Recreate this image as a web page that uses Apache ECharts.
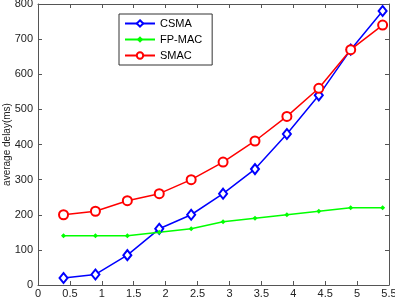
<!DOCTYPE html>
<html><head><meta charset="utf-8">
<script src="https://cdn.jsdelivr.net/npm/echarts@6/dist/echarts.min.js"></script>
<style>html,body{margin:0;padding:0;background:#fff}#c{width:395px;height:298px}</style>
</head><body><div id="c"></div>
<script>
const xValues = [0.4, 0.9, 1.4, 1.9, 2.4, 2.9, 3.4, 3.9, 4.4, 4.9, 5.4];
const csma = [20, 30, 85, 160, 200, 260, 330, 430, 540, 670, 780];
const fpmac = [140, 140, 140, 150, 160, 180, 190, 200, 210, 220, 220];
const smac = [200, 210, 240, 260, 300, 350, 410, 480, 560, 670, 740];
const seriesNames = ['CSMA', 'FP-MAC', 'SMAC'];
const yLabel = 'average delay(ms)';

const pair = (arr) => xValues.map((x, i) => [x, arr[i]]);
const font = 'Liberation Sans, Arial, sans-serif';
const axisCommon = {
  axisLine: {show: true, onZero: false, lineStyle: {color: '#555', width: 1}},
  axisTick: {show: true, inside: true, length: 4, lineStyle: {color: '#555'}},
  splitLine: {show: false}
};
const chart = echarts.init(document.getElementById('c'));
chart.setOption({
  animation: false,
  backgroundColor: '#fff',
  grid: {left: 38, right: 6, top: 4, bottom: 13, containLabel: false, outerBoundsMode: 'none'},
  legend: {
    orient: 'vertical', left: 119, top: 14, width: 90,
    itemWidth: 30, itemHeight: 8, itemGap: 5,
    padding: [4, 10, 4, 5],
    borderColor: '#333', borderWidth: 1, backgroundColor: '#fff',
    textStyle: {fontFamily: font, fontSize: 11, color: '#000'},
    data: seriesNames
  },
  xAxis: [
    Object.assign({type: 'value', min: 0, max: 5.5, interval: 0.5, position: 'bottom',
      axisLabel: {fontFamily: font, fontSize: 11, color: '#222', margin: 3}}, axisCommon),
    Object.assign({type: 'value', min: 0, max: 5.5, interval: 0.5, position: 'top',
      axisLabel: {show: false}}, axisCommon)
  ],
  yAxis: [
    Object.assign({type: 'value', min: 0, max: 800, interval: 100, position: 'left',
      name: yLabel, nameLocation: 'middle', nameGap: 26, nameMoveOverlap: false,
      nameTextStyle: {fontFamily: font, fontSize: 10, color: '#222'},
      axisLabel: {fontFamily: font, fontSize: 11, color: '#222', margin: 5}}, axisCommon),
    Object.assign({type: 'value', min: 0, max: 800, interval: 100, position: 'right',
      axisLabel: {show: false}}, axisCommon)
  ],
  series: [
    {name: seriesNames[0], type: 'line', data: pair(csma), symbol: 'emptyDiamond', symbolSize: [8, 10],
      itemStyle: {color: '#0000ff', borderWidth: 1.2}, lineStyle: {color: '#0000ff', width: 1.5}},
    {name: seriesNames[1], type: 'line', data: pair(fpmac), symbol: 'diamond', symbolSize: 5,
      itemStyle: {color: '#00ff00'}, lineStyle: {color: '#00ff00', width: 1.5}},
    {name: seriesNames[2], type: 'line', data: pair(smac), symbol: 'emptyCircle', symbolSize: 9,
      itemStyle: {color: '#ff0000', borderWidth: 1.2}, lineStyle: {color: '#ff0000', width: 1.5}}
  ]
});
</script></body></html>
